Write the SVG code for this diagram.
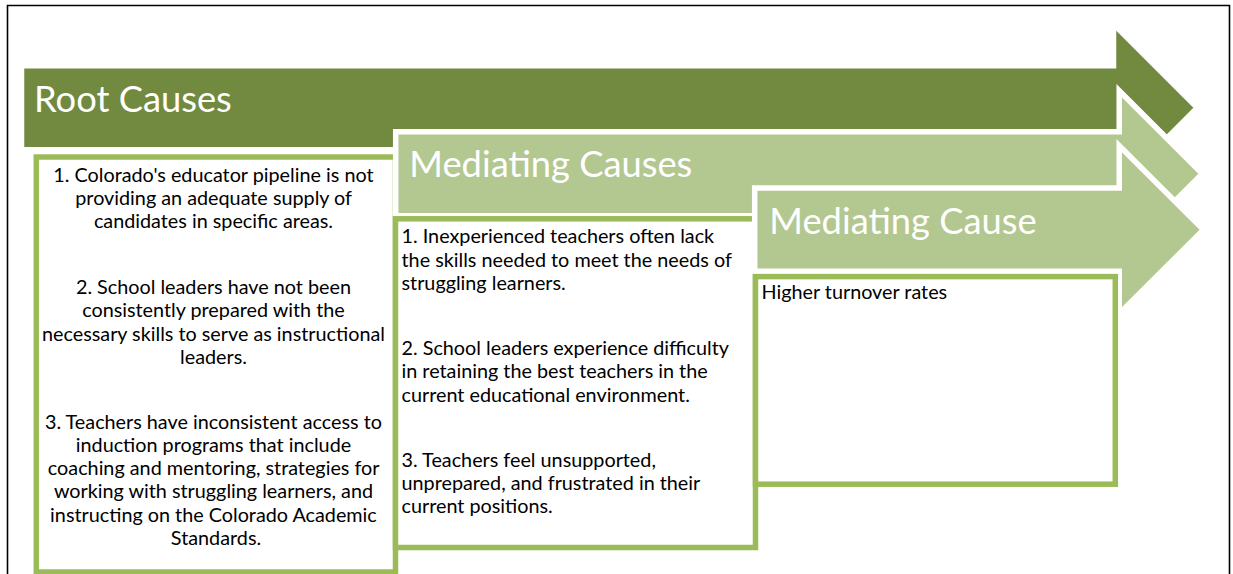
<svg xmlns="http://www.w3.org/2000/svg" width="1233" height="574" viewBox="0 0 1233 574">
<style>
.frame{fill:none;stroke:#000;stroke-width:1.6}
.arrow{stroke:#fff;stroke-width:5.5;stroke-linejoin:miter}
.dark{fill:#728A40}
.light{fill:#B3C791}
.box{fill:#fff;stroke:#9BBB59;stroke-width:5.5}
.head{font-family:Lato,"Liberation Sans",sans-serif;font-size:36.3px;fill:#fff}
.body{font-family:Lato,"Liberation Sans",sans-serif;font-size:19.8px;fill:#000}
.c{text-anchor:middle}
</style>
<path class="frame" d="M7.5,574 V5.5 H1229.5 V574"/>
<g id="root-arrow">
<polygon class="arrow dark" points="21.5,65.8 1113.5,65.8 1113.5,24 1197.3,107.8 1113.5,191.6 1113.5,149.8 21.5,149.8"/>
<text class="head" x="34" y="112">Root Causes</text>
</g>
<g id="root-box">
<rect class="box" x="36.3" y="157" width="359.2" height="415"/>
<text class="body c">
<tspan x="216" y="181.5">1. Colorado's educator pipeline is not</tspan>
<tspan x="216" y="204.8">providing an adequate supply of</tspan>
<tspan x="216" y="228.1">candidates in specific areas.</tspan>
<tspan x="216" y="294">2. School leaders have not been</tspan>
<tspan x="216" y="317.3">consistently prepared with the</tspan>
<tspan x="216" y="340.6">necessary skills to serve as instructional</tspan>
<tspan x="216" y="364">leaders.</tspan>
<tspan x="216" y="428.5">3. Teachers have inconsistent access to</tspan>
<tspan x="216" y="451.8">induction programs that include</tspan>
<tspan x="216" y="475.1">coaching and mentoring, strategies for</tspan>
<tspan x="216" y="498.4">working with struggling learners, and</tspan>
<tspan x="216" y="521.7">instructing on the Colorado Academic</tspan>
<tspan x="216" y="545">Standards.</tspan>
</text>
</g>
<g id="mediating-arrow">
<polygon class="arrow light" points="395.7,131.7 1119.2,131.7 1119.2,90.7 1202.3,173.75 1119.2,256.8 1119.2,215.8 395.7,215.8"/>
<text class="head" x="409.3" y="176.7">Mediating Causes</text>
</g>
<g id="mediating-box">
<rect class="box" x="395.5" y="218.8" width="360" height="328.7"/>
<text class="body">
<tspan x="401.5" y="243.3">1. Inexperienced teachers often lack</tspan>
<tspan x="401.5" y="266.7">the skills needed to meet the needs of</tspan>
<tspan x="401.5" y="290">struggling learners.</tspan>
<tspan x="401.5" y="355">2. School leaders experience difficulty</tspan>
<tspan x="401.5" y="378.3">in retaining the best teachers in the</tspan>
<tspan x="401.5" y="401.7">current educational environment.</tspan>
<tspan x="401.5" y="466.7">3. Teachers feel unsupported,</tspan>
<tspan x="401.5" y="490">unprepared, and frustrated in their</tspan>
<tspan x="401.5" y="513.3">current positions.</tspan>
</text>
</g>
<g id="mediating-cause-arrow">
<polygon class="arrow light" points="754.7,188 1119.2,188 1119.2,145.7 1203.5,229.7 1119.2,313.7 1119.2,271.3 754.7,271.3"/>
<text class="head" x="769.3" y="234">Mediating Cause</text>
</g>
<g id="mediating-cause-box">
<rect class="box" x="755.5" y="276.6" width="359.8" height="207.6"/>
<text class="body" x="761.5" y="299.3">Higher turnover rates</text>
</g>
<g id="connectors"/>
</svg>
